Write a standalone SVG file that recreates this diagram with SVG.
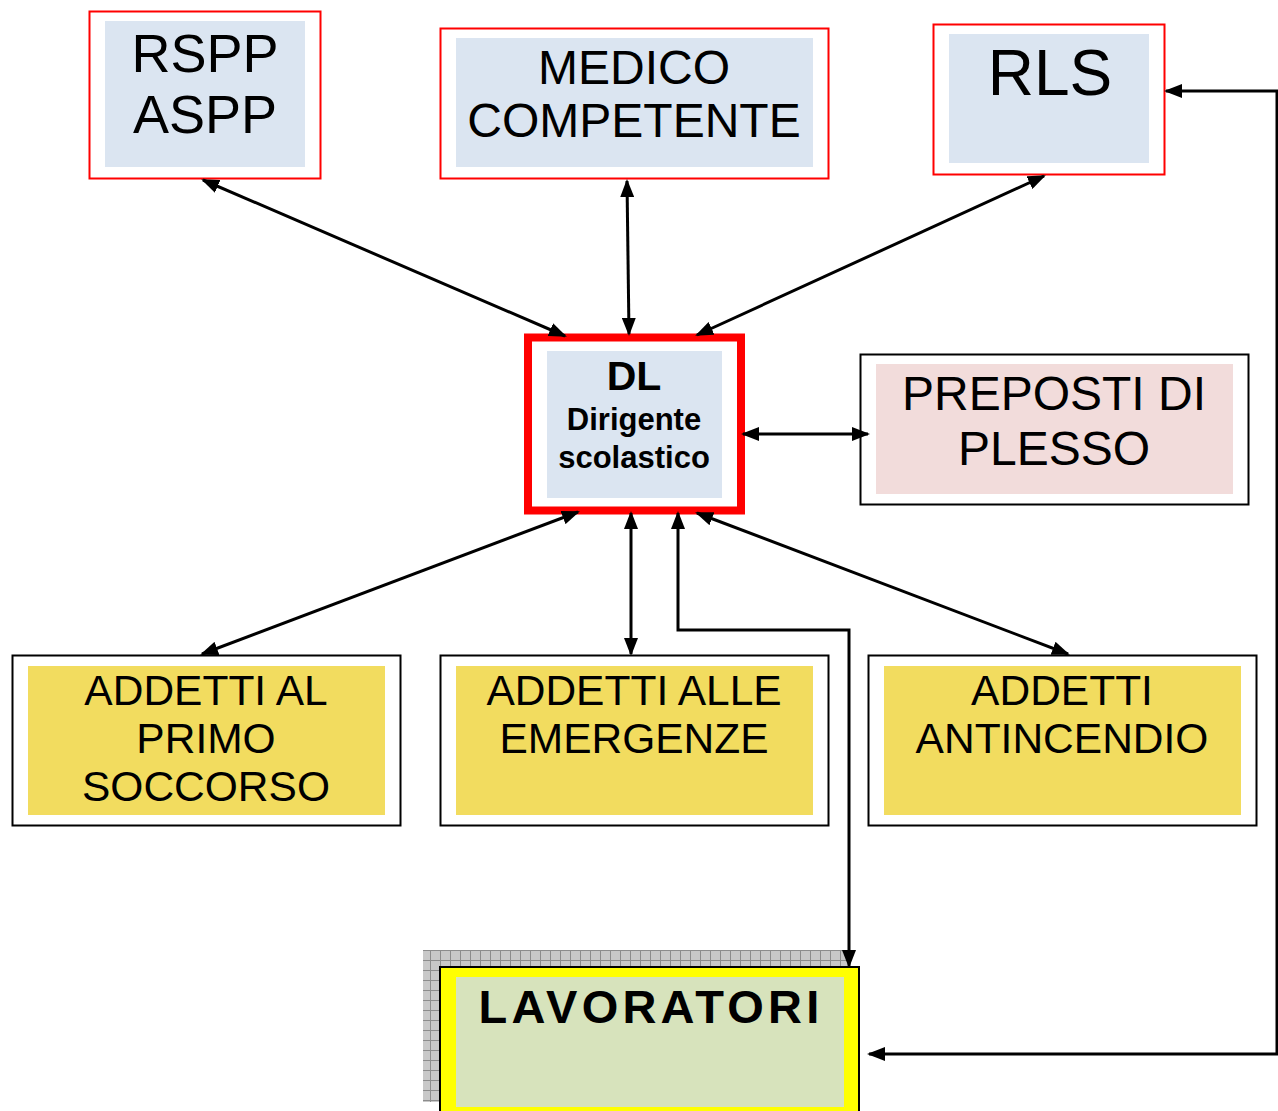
<svg xmlns="http://www.w3.org/2000/svg" width="1278" height="1111" viewBox="0 0 1278 1111">
<style>
.red{fill:#fff;stroke:#ff0000;stroke-width:2}
.blk{fill:#fff;stroke:#000;stroke-width:2}
.blue{fill:#dbe5f1}
.yel{fill:#f2dc5f}
.t{font-family:"Liberation Sans",Arial,sans-serif;text-anchor:middle;fill:#000}
.c{fill:none;stroke:#000;stroke-width:3;marker-start:url(#ah);marker-end:url(#ah)}
</style>
<defs>
<marker id="ah" markerUnits="userSpaceOnUse" markerWidth="18" markerHeight="14" refX="16" refY="7" orient="auto-start-reverse" viewBox="0 0 18 14">
<path d="M0,0 L18,7 L0,14 Z" fill="#000"/>
</marker>
<pattern id="grid" patternUnits="userSpaceOnUse" width="10" height="10">
<rect width="10" height="10" fill="#c8c8c8"/>
<path d="M0,0.5 H10 M0.5,0 V10" stroke="#8c8c8c" stroke-width="1"/>
</pattern>
</defs>
<g id="rspp">
<rect class="red" x="89.5" y="11.5" width="231" height="167"/>
<rect class="blue" x="105" y="21" width="200" height="146"/>
<text class="t" x="205" y="72" font-size="54">RSPP</text>
<text class="t" x="205" y="133" font-size="54">ASPP</text>
</g>
<g id="medico">
<rect class="red" x="440.5" y="28.5" width="388" height="150"/>
<rect class="blue" x="456" y="38" width="357" height="129"/>
<text class="t" x="634" y="84" font-size="48">MEDICO</text>
<text class="t" x="634" y="137" font-size="48">COMPETENTE</text>
</g>
<g id="rls">
<rect class="red" x="933.5" y="24.5" width="231" height="150"/>
<rect class="blue" x="949" y="34" width="200" height="129"/>
<text class="t" x="1050" y="95" font-size="64">RLS</text>
</g>
<g id="dl">
<rect x="528" y="337.5" width="213" height="173" fill="#fff" stroke="#ff0000" stroke-width="8"/>
<rect class="blue" x="547" y="351" width="175" height="147"/>
<text class="t" x="634" y="390" font-size="41" font-weight="bold">DL</text>
<text class="t" x="634" y="430" font-size="31" font-weight="bold">Dirigente</text>
<text class="t" x="634" y="468" font-size="31" font-weight="bold">scolastico</text>
</g>
<g id="preposti">
<rect class="blk" x="860.5" y="354.5" width="388" height="150"/>
<rect x="876" y="364" width="357" height="130" fill="#f2dcdb"/>
<text class="t" x="1054" y="410" font-size="48">PREPOSTI DI</text>
<text class="t" x="1054" y="465" font-size="48">PLESSO</text>
</g>
<g id="primo-soccorso">
<rect class="blk" x="12.5" y="655.5" width="388" height="170"/>
<rect class="yel" x="28" y="666" width="357" height="149"/>
<text class="t" x="206" y="705" font-size="42.5">ADDETTI AL</text>
<text class="t" x="206" y="753" font-size="42.5">PRIMO</text>
<text class="t" x="206" y="801" font-size="42.5">SOCCORSO</text>
</g>
<g id="emergenze">
<rect class="blk" x="440.5" y="655.5" width="388" height="170"/>
<rect class="yel" x="456" y="666" width="357" height="149"/>
<text class="t" x="634" y="705" font-size="42.5">ADDETTI ALLE</text>
<text class="t" x="634" y="753" font-size="42.5">EMERGENZE</text>
</g>
<g id="antincendio">
<rect class="blk" x="868.5" y="655.5" width="388" height="170"/>
<rect class="yel" x="884" y="666" width="357" height="149"/>
<text class="t" x="1062" y="705" font-size="42.5">ADDETTI</text>
<text class="t" x="1062" y="753" font-size="42.5">ANTINCENDIO</text>
</g>
<g id="lavoratori">
<rect x="423" y="950" width="424" height="152" fill="url(#grid)"/>
<rect x="440" y="967" width="419" height="160" fill="#ffff00" stroke="#000" stroke-width="2"/>
<rect x="456" y="977" width="388" height="130" fill="#d7e3bc"/>
<text class="t" x="651" y="1023" font-size="47" font-weight="bold" letter-spacing="4.2">LAVORATORI</text>
</g>
<g id="connectors">
<line class="c" x1="203" y1="180" x2="565" y2="336"/>
<line class="c" x1="627" y1="181" x2="629" y2="334"/>
<line class="c" x1="1044" y1="176" x2="697" y2="335"/>
<line class="c" x1="743" y1="434" x2="868" y2="434"/>
<line class="c" x1="578" y1="512" x2="202" y2="654"/>
<line class="c" x1="631" y1="513" x2="631" y2="654"/>
<line class="c" x1="697" y1="513" x2="1068" y2="654"/>
<polyline class="c" points="678,513 678,630 849,630 849,966"/>
<polyline class="c" points="1166,91 1277,91 1277,1054 869,1054"/>
</g>
</svg>
